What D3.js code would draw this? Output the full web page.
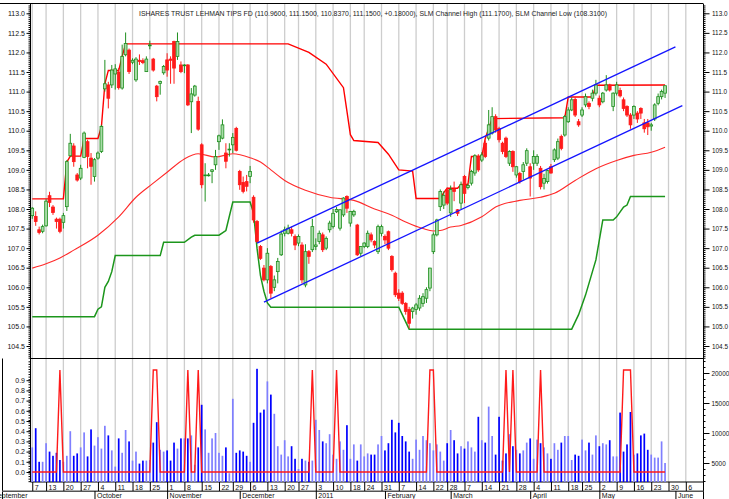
<!DOCTYPE html>
<html><head><meta charset="utf-8">
<script src="https://cdn.jsdelivr.net/npm/d3@7/dist/d3.min.js"></script>
<style>html,body{margin:0;padding:0;background:#fff;}svg{display:block;}</style>
</head><body>
<svg id="chart" width="729" height="499"></svg>
<script>
const title = "ISHARES TRUST LEHMAN TIPS FD (110.9600, 111.1500, 110.8370, 111.1500, +0.18000), SLM Channel High (111.1700), SLM Channel Low (108.3100)";

// daily OHLC, trading days from 7 Sep 2010 (index 0) to 27 May 2011 (index 183)
const opens = [
107.83,107.81,107.47,107.43,107.57,108.34,108.05,107.74,107.74,107.66,
108.06,109.36,109.61,108.87,108.79,109.32,109.72,109.30,108.83,109.30,
109.47,111.07,111.17,111.17,111.45,111.50,111.09,111.94,112.06,111.75,
111.30,111.80,111.79,111.51,112.17,111.83,111.14,111.21,111.48,111.81,
111.83,112.28,111.90,111.68,111.66,111.68,110.74,110.91,110.75,109.64,
108.85,108.86,108.96,109.13,109.72,109.81,109.43,109.52,109.64,110.06,
108.96,108.68,108.70,108.83,108.30,107.68,107.04,106.49,106.19,106.53,
106.00,106.40,106.83,107.38,107.38,107.47,107.30,107.13,107.08,106.06,
106.91,106.96,107.04,107.17,107.34,107.00,107.47,107.55,107.93,107.51,
107.85,108.32,107.64,107.85,107.59,106.87,107.04,107.04,107.34,107.17,
106.91,107.38,107.30,107.42,106.79,106.36,105.85,105.85,105.59,105.43,
105.38,105.43,105.47,105.59,105.72,105.98,106.91,107.34,108.06,108.10,
108.49,107.90,108.50,107.98,108.15,108.83,108.55,108.66,108.92,109.35,
109.25,109.68,109.81,109.94,110.36,110.06,109.68,109.81,109.17,109.47,
108.87,108.91,108.96,109.17,109.08,109.17,109.17,109.04,108.66,108.70,
109.08,109.26,109.30,109.85,109.89,110.23,110.53,110.80,110.23,110.40,
110.66,110.70,110.83,110.96,110.83,110.74,111.04,111.17,110.62,110.96,
111.03,110.79,110.62,110.40,110.40,110.45,110.57,110.20,110.20,110.12,
110.30,110.70,110.87,110.96];
const highs = [
108.05,107.94,107.55,107.60,108.25,108.44,108.10,107.78,107.78,107.90,
109.25,109.92,109.68,108.92,109.13,109.98,109.77,109.43,109.30,109.47,
110.15,111.81,111.25,111.68,111.70,111.60,112.20,112.51,112.10,111.85,
111.88,111.95,111.85,111.90,112.30,111.86,111.17,111.28,111.68,111.98,
111.90,112.30,112.51,111.77,111.70,111.70,111.09,111.17,110.87,109.68,
109.17,108.92,109.02,109.51,109.90,110.29,109.68,109.68,109.94,110.10,
109.00,108.83,108.87,109.10,108.35,107.72,107.08,106.57,107.00,106.57,
106.30,106.75,107.45,107.55,107.60,107.55,107.35,107.35,107.15,107.10,
106.95,107.75,107.25,107.45,107.40,107.30,107.70,108.00,108.05,108.00,
108.30,108.35,107.95,107.98,107.62,107.05,107.15,107.45,107.40,107.20,
107.60,107.60,107.35,107.45,106.82,106.40,105.95,105.90,105.62,105.50,
105.50,105.60,105.80,105.85,106.00,106.50,107.40,107.75,108.50,108.45,
108.55,108.60,108.70,108.00,108.70,108.87,108.65,109.00,109.40,109.40,
109.45,109.75,110.53,110.60,110.42,110.10,109.72,109.85,109.50,109.50,
109.10,108.95,109.20,109.55,109.17,109.50,109.40,109.10,108.90,109.00,
109.15,109.55,109.80,109.90,110.40,110.60,110.85,110.85,110.30,110.60,
110.95,110.75,111.05,111.30,110.90,110.99,111.42,111.20,110.98,111.25,
111.10,110.85,110.65,110.45,110.65,110.50,110.60,110.30,110.30,110.20,
110.70,110.95,111.05,111.15];
const lows = [
107.75,107.57,107.35,107.38,107.55,108.05,107.85,107.50,107.38,107.50,
107.95,109.34,109.08,108.70,108.74,109.30,109.04,108.62,108.70,109.26,
109.43,111.00,110.57,111.09,111.05,111.05,111.05,111.90,111.45,111.70,
111.25,111.68,111.70,111.50,112.08,111.51,110.75,110.92,111.43,111.38,
111.20,111.20,111.81,111.47,111.47,110.63,109.94,110.87,110.00,108.53,
108.19,108.83,108.66,109.00,109.51,109.78,109.04,109.34,109.43,109.47,
108.49,108.40,108.45,108.66,107.65,107.13,106.70,106.15,106.10,105.72,
105.90,106.10,106.80,107.30,107.35,107.30,106.95,107.05,106.10,106.00,
106.60,106.90,106.95,107.10,106.90,106.95,107.40,107.50,107.90,107.45,
107.80,107.90,107.55,107.80,106.80,106.80,107.00,107.00,107.15,107.00,
106.85,107.30,107.10,106.95,106.40,105.75,105.65,105.55,105.30,104.95,
105.20,105.30,105.40,105.50,105.60,105.90,106.85,107.30,107.95,108.00,
108.10,107.80,108.20,107.82,108.00,108.15,108.50,108.60,108.85,108.95,
109.20,109.30,109.75,109.90,109.95,109.70,109.40,109.30,109.10,108.95,
108.80,108.65,108.75,109.10,108.32,109.00,109.10,108.50,108.50,108.65,
108.90,109.20,109.25,109.50,109.85,110.20,110.50,110.35,110.10,110.35,
110.60,110.55,110.75,110.90,110.60,110.70,111.00,111.00,110.50,110.90,
110.85,110.50,110.35,110.05,110.30,110.20,110.30,109.95,109.89,110.00,
110.25,110.65,110.80,110.837];
const closes = [
108.02,107.68,107.40,107.55,108.20,108.17,107.91,107.68,107.43,107.83,
109.21,109.68,109.21,108.74,109.04,109.94,109.34,109.09,109.26,109.43,
110.11,111.20,110.83,111.55,111.58,111.10,111.90,112.23,111.51,111.80,
111.83,111.77,111.74,111.83,112.19,111.55,110.87,111.26,111.64,111.55,
111.80,111.60,112.28,111.51,111.68,110.66,110.94,111.14,110.04,108.62,
108.87,108.87,109.00,109.34,109.87,110.15,109.22,109.53,109.83,109.50,
108.62,108.45,108.58,108.96,107.72,107.17,106.74,106.19,106.87,105.85,
106.19,106.66,107.36,107.47,107.51,107.38,107.08,107.30,106.19,106.91,
106.79,107.55,107.08,107.38,106.96,107.25,107.64,107.89,107.99,107.98,
108.28,108.02,107.94,107.94,106.83,107.04,107.13,107.38,107.21,107.08,
107.55,107.55,107.21,107.00,106.45,105.81,105.72,105.59,105.38,105.08,
105.47,105.55,105.72,105.76,105.94,106.49,107.34,107.72,108.45,108.35,
108.15,108.50,108.45,107.89,108.62,108.40,108.60,108.96,109.36,109.00,
109.38,109.34,110.15,110.36,110.02,109.77,109.47,109.34,109.47,109.08,
109.08,108.70,109.13,109.49,108.79,109.34,109.34,108.57,108.78,108.98,
108.92,109.51,109.72,109.55,110.36,110.53,110.79,110.40,110.15,110.53,
110.87,110.62,110.96,111.17,110.66,110.96,111.17,111.04,110.96,111.17,
110.89,110.57,110.40,110.15,110.62,110.30,110.45,110.05,110.10,110.15,
110.66,110.87,111.00,111.15];
const volumes = [
7600,10800,5200,5200,8300,6900,6200,6700,5500,5200,
6200,10300,6200,6600,7600,10100,6100,10600,7900,9300,
7400,11200,9600,7100,4400,9100,6700,10500,8600,5400,
6900,4900,5400,5400,5500,8400,11800,7200,6900,7100,
5400,8400,7400,9100,9100,9100,9600,4700,7600,14700,
10600,6700,9100,10000,6700,6200,7600,3300,15700,6700,
7100,6900,6200,5200,11700,20700,13400,13900,18600,16400,
13200,7800,6400,8800,6100,7800,5700,4000,5700,5400,
5200,5400,12200,10500,8600,8300,9800,6400,5700,8600,
7200,11300,5700,8100,5400,8100,6100,6600,6400,6400,
8100,9500,7100,8300,12200,10100,11700,9500,8600,6900,
5700,8900,7200,9500,8800,8300,7100,8100,6900,5400,
8300,10500,8800,6600,7800,7400,8600,7600,6900,12700,
8800,8400,14400,9500,6400,12700,5400,6600,9800,7800,
7200,6600,7100,8400,9100,5700,8900,8300,7600,6600,
5700,8300,7200,8400,9500,9500,5500,6400,6200,8900,
7100,8400,6400,9600,7800,8300,8100,8800,6100,6100,
13400,6900,8100,13500,6400,6600,9600,9900,7200,6400,
5900,5900,8600,5000];
// days on which the lower-panel signal is 1 (0 otherwise)
const signalDays = [8,35,36,45,48,81,88,115,116,137,139,147,171,172,173];

// SLM channel high / low and moving average (day index, value) vertices
const hiIdx = [0,9,10,11,14,15,19,20,21,22,25,26,27,74,80,85,90,91,92,93,100,103,106,110,111,118,119,120,123,124,126,127,130,131,133,154,155,162,163,183];
const hiVal = [108.26,108.26,109.2,109.35,109.35,109.8,109.8,110.1,111.2,111.54,111.54,111.9,112.22,112.22,112.0,111.7,111.1,110.5,109.9,109.75,109.7,109.4,109.0,108.97,108.27,108.27,108.42,108.53,108.53,108.63,108.63,109.34,109.34,109.8,110.31,110.33,110.86,110.86,111.16,111.17];
const loIdx = [0,18,19,20,21,22,23,24,37,38,44,46,47,54,56,58,63,64,65,66,67,68,69,106,107,109,156,158,160,162,163,165,168,169,171,172,173,183];
const loVal = [105.25,105.25,105.44,105.5,106.0,106.15,106.4,106.81,106.81,107.15,107.15,107.28,107.33,107.33,107.45,108.18,108.18,107.9,107.0,106.3,105.9,105.6,105.49,105.49,105.3,104.93,104.93,105.3,105.8,106.4,106.7,107.72,107.72,107.8,108.05,108.1,108.32,108.32];
const maIdx = [0,4,8,12,19,25,30,35,39,44,48,53,58,63,66,69,73,79,86,93,99,104,108,113,116,118,121,124,130,134,141,147,151,157,163,169,174,179,183];
const maVal = [106.49,106.6,106.75,106.95,107.33,107.8,108.3,108.66,108.94,109.28,109.41,109.33,109.41,109.31,109.2,109.0,108.73,108.48,108.3,108.22,108.0,107.84,107.67,107.5,107.44,107.45,107.54,107.58,107.8,108.05,108.22,108.3,108.4,108.73,109.03,109.24,109.37,109.45,109.58];
// regression channel lines (start / end)
const upIdx = [65,186], upVal = [107.13,112.14];
const dnIdx = [67,188], dnVal = [105.62,110.64];

// axis ticks
const weekIdx = [0,4,9,14,19,24,29,34,39,44,49,54,58,63,68,73,77,82,87,92,96,101,106,111,116,120,125,130,135,140,145,150,155,159,164,169,174,179,184,189];
const weekLab = ["7","13","20","27","4","11","18","25","1","8","15","22","29","6","13","20","27","3","10","18","24","31","7","14","22","28","7","14","21","28","4","11","18","25","2","9","16","23","30","6"];
const monthIdx = [-12,18,39,60,82,102,121,144,164,186];
const monthLab = ["September","October","November","December","2011","February","March","April","May","June"];
const priceTicks = [104.5,105,105.5,106,106.5,107,107.5,108,108.5,109,109.5,110,110.5,111,111.5,112,112.5,113];
const sigTicks = [0,0.1,0.2,0.3,0.4,0.5,0.6,0.7,0.8,0.9];
const volTicks = [5000,10000,15000,20000];

// ---------------- layout
const L = 30.5, R = 703.5, TOP = 4, SEP = 358.5, BOT = 482;
const x = d3.scaleLinear().domain([0,189]).range([32.25,685.8]);
const y = d3.scaleLinear().domain([104.5,113]).range([346,13.3]);
const ySig = d3.scaleLinear().domain([0,1]).range([472,370]);
const yVol = d3.scaleLinear().domain([0,20000]).range([493,373]);

const svg = d3.select("#chart").style("font-family","'Liberation Sans', Arial, sans-serif");
const defs = svg.append("defs");
defs.append("clipPath").attr("id","cm").append("rect").attr("x",L).attr("y",TOP).attr("width",R-L).attr("height",SEP-TOP);
defs.append("clipPath").attr("id","cl").append("rect").attr("x",L).attr("y",SEP+0.5).attr("width",R-L).attr("height",BOT-SEP-0.5);

// gridlines
svg.append("g").selectAll("line").data(weekIdx).join("line")
  .attr("x1",d=>x(d)).attr("x2",d=>x(d)).attr("y1",TOP).attr("y2",BOT)
  .attr("stroke","#cdcdcd").attr("stroke-width",1.3);

// frame lines
const frame = svg.append("g").attr("stroke","#000").attr("fill","none");
frame.append("line").attr("x1",0).attr("x2",R).attr("y1",3.5).attr("y2",3.5);
frame.append("line").attr("x1",L).attr("x2",R).attr("y1",SEP).attr("y2",SEP);
frame.append("line").attr("x1",L).attr("x2",R).attr("y1",BOT).attr("y2",BOT);
frame.append("line").attr("x1",2.5).attr("x2",2.5).attr("y1",SEP).attr("y2",499);
frame.append("line").attr("x1",R).attr("x2",R).attr("y1",TOP).attr("y2",499);
frame.append("line").attr("x1",L).attr("x2",L).attr("y1",TOP).attr("y2",BOT);
svg.append("line").attr("x1",2).attr("x2",R).attr("y1",491.2).attr("y2",491.2).attr("stroke","#555").attr("stroke-width",1.6);

// main panel lines
const gm = svg.append("g").attr("clip-path","url(#cm)");
const pts = (a,b)=>a.map((d,i)=>[d,b[i]]);
const ln = d3.line().x(d=>x(d[0])).y(d=>y(d[1]));
gm.append("path").attr("d",d3.line().curve(d3.curveMonotoneX).x(d=>x(d[0])).y(d=>y(d[1]))(pts(maIdx,maVal)))
  .attr("fill","none").attr("stroke","#ff2a2a").attr("stroke-width",1.1);
gm.append("path").attr("d",ln(pts(loIdx,loVal))).attr("fill","none").attr("stroke","#1c961c").attr("stroke-width",1.5);
gm.append("path").attr("d",ln(pts(hiIdx,hiVal))).attr("fill","none").attr("stroke","#ff0000").attr("stroke-width",1.4);

// candles
const days = d3.range(closes.length);
const up = i => closes[i] >= opens[i];
gm.append("g").selectAll("line").data(days).join("line")
  .attr("x1",i=>x(i)).attr("x2",i=>x(i)).attr("y1",i=>y(highs[i])).attr("y2",i=>y(lows[i]))
  .attr("stroke",i=>up(i)?"#1f8f1f":"#ff1a1a").attr("stroke-width",1);
gm.append("g").selectAll("rect").data(days).join("rect")
  .attr("x",i=>x(i)-1.4).attr("width",2.8)
  .attr("y",i=>y(Math.max(opens[i],closes[i])))
  .attr("height",i=>Math.max(0.8,Math.abs(y(opens[i])-y(closes[i]))))
  .attr("fill",i=>up(i)?"#a8dca8":"#ff1a1a")
  .attr("stroke",i=>up(i)?"#1f8f1f":"#ff1a1a").attr("stroke-width",0.8);

// regression channel
gm.append("path").attr("d",ln(pts(upIdx,upVal))).attr("fill","none").attr("stroke","#1414ff").attr("stroke-width",1.3);
gm.append("path").attr("d",ln(pts(dnIdx,dnVal))).attr("fill","none").attr("stroke","#1414ff").attr("stroke-width",1.3);

// lower panel
const gl = svg.append("g").attr("clip-path","url(#cl)");
gl.append("g").selectAll("rect").data(days).join("rect")
  .attr("x",i=>x(i)-0.85).attr("width",1.7)
  .attr("y",i=>Math.min(BOT,yVol(volumes[i])))
  .attr("height",i=>Math.max(0,BOT-yVol(volumes[i])))
  .attr("fill",i=>up(i)?"#7f7fff":"#0000ff");
const sig = days.map(i=>[i, signalDays.includes(i)?1:0]);
gl.append("path").attr("d",d3.line().x(d=>x(d[0])).y(d=>ySig(d[1]))(sig))
  .attr("fill","none").attr("stroke","#ff1a1a").attr("stroke-width",1.4);

// axes
function styleAxis(g){ g.select(".domain").remove(); g.selectAll("text").attr("fill","#111").style("font-size","7px"); g.selectAll("line").attr("stroke","#000"); }
function smallText(g){ g.selectAll("text").style("font-size","6.4px"); }
const mainMinor = d3.range(104.2,113.25,0.05);
svg.append("g").attr("transform",`translate(${L},0)`).call(d3.axisLeft(y).tickValues(mainMinor).tickSize(2).tickFormat("")).call(styleAxis);
svg.append("g").attr("transform",`translate(${L},0)`).call(d3.axisLeft(y).tickValues(priceTicks).tickSize(4).tickPadding(1.5).tickFormat(d3.format(".1f"))).call(styleAxis);
svg.append("g").attr("transform",`translate(${R},0)`).call(d3.axisRight(y).tickValues(mainMinor).tickSize(2).tickFormat("")).call(styleAxis);
svg.append("g").attr("transform",`translate(${R},0)`).call(d3.axisRight(y).tickValues(priceTicks).tickSize(6).tickPadding(2.5).tickFormat(d3.format(".1f"))).call(styleAxis).call(smallText);

const sigMinor = d3.range(-0.09,1.1,0.025);
svg.append("g").attr("transform",`translate(${L},0)`).call(d3.axisLeft(ySig).tickValues(sigMinor).tickSize(2).tickFormat("")).call(styleAxis);
svg.append("g").attr("transform",`translate(${L},0)`).call(d3.axisLeft(ySig).tickValues(sigTicks).tickSize(4).tickPadding(1.5).tickFormat(d3.format(".1f"))).call(styleAxis);
const volMinor = d3.range(2000,22001,1000);
svg.append("g").attr("transform",`translate(${R},0)`).call(d3.axisRight(yVol).tickValues(volMinor).tickSize(2).tickFormat("")).call(styleAxis);
svg.append("g").attr("transform",`translate(${R},0)`).call(d3.axisRight(yVol).tickValues(volTicks).tickSize(6).tickPadding(2).tickFormat(d3.format("d"))).call(styleAxis).call(smallText);

// date axes
const gw = svg.append("g").attr("transform",`translate(0,${BOT})`)
  .call(d3.axisBottom(x).tickValues(weekIdx).tickSize(9).tickFormat((d,i)=>weekLab[i])).call(styleAxis);
gw.selectAll("text").attr("text-anchor","start").attr("x",2).attr("y",3);
const gmo = svg.append("g").attr("transform","translate(0,491)")
  .call(d3.axisBottom(x).tickValues(monthIdx).tickSize(8).tickFormat((d,i)=>monthLab[i])).call(styleAxis);
gmo.selectAll("text").attr("text-anchor","start").attr("x",2).attr("y",2.5);

// title
svg.append("text").attr("x",139).attr("y",15.5).attr("fill","#222").style("font-size","7px")
  .attr("textLength",468).attr("lengthAdjust","spacingAndGlyphs").text(title);
</script></body></html>
